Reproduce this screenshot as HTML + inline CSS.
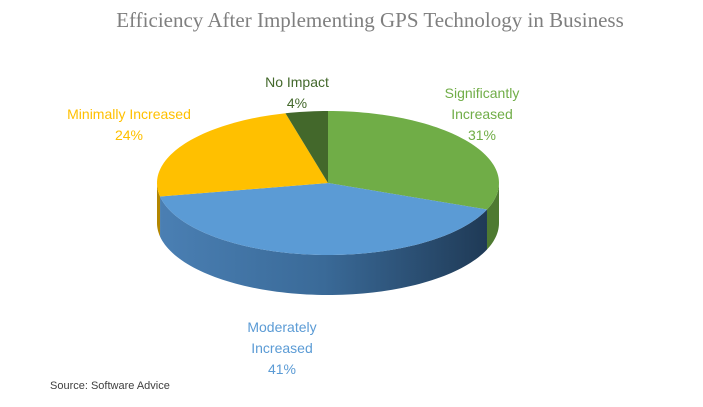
<!DOCTYPE html>
<html><head><meta charset="utf-8">
<style>
html,body{margin:0;padding:0;background:#fff;}
svg{display:block;font-family:"Liberation Sans",Arial,sans-serif;}
</style></head>
<body>
<svg id="chart" width="703" height="407" viewBox="0 0 703 407" xmlns="http://www.w3.org/2000/svg">
<defs>
<linearGradient id="gBlue" x1="0" x2="1" y1="0" y2="0">
<stop offset="0" stop-color="#4a7fb3"/><stop offset="0.5" stop-color="#3a6a98"/><stop offset="1" stop-color="#1f3a56"/>
</linearGradient>
</defs>
<text x="370" y="27" text-anchor="middle" font-family="'Liberation Serif',serif" font-size="21" fill="#7f7f7f">Efficiency After Implementing GPS Technology in Business</text>
<g id="slices"></g>
<g id="labels"></g>
<text x="50" y="389" font-size="11" fill="#404040">Source: Software Advice</text>
</svg>
<script>
const categories = ["Significantly Increased", "Moderately Increased", "Minimally Increased", "No Impact"];
const values = [31, 41, 24, 4];
const labelLines = [["Significantly","Increased","31%"],["Moderately","Increased","41%"],["Minimally Increased","24%"],["No Impact","4%"]];
const topColors = ["#70ad47","#5b9bd5","#ffc000","#43682b"];
const sideColors = ["#4e7a31","url(#gBlue)","#b38600","#2d4a1d"];
const labelColors = ["#70ad47","#5b9bd5","#ffc000","#43682b"];
const labelPos = [[482,98],[282,332],[129,119],[297,87]];

const cx=328, cy=183, rx=171, ry=72, depth=40;
const NS="http://www.w3.org/2000/svg";
const gS=document.getElementById('slices'), gL=document.getElementById('labels');
const total=values.reduce((a,b)=>a+b,0);
function pt(a,dy){return [cx+rx*Math.cos(a), cy+ry*Math.sin(a)+(dy||0)];}
function arcPath(a1,a2,dy){
  let d=""; const n=Math.max(2,Math.ceil(Math.abs(a2-a1)/0.03));
  for(let i=0;i<=n;i++){const p=pt(a1+(a2-a1)*i/n,dy); d+=(i?"L":"")+p[0].toFixed(2)+","+p[1].toFixed(2);}
  return d;
}
let angles=[]; let a=-Math.PI/2;
values.forEach(v=>{const b=a+v/total*2*Math.PI; angles.push([a,b]); a=b;});
angles.forEach((ab,i)=>{
  const s=Math.max(ab[0],0), e=Math.min(ab[1],Math.PI);
  if(e<=s) return;
  const p=document.createElementNS(NS,'path');
  p.setAttribute('d',"M"+arcPath(s,e,0)+"L"+arcPath(e,s,depth)+"Z");
  p.setAttribute('fill',sideColors[i]);
  
  
  gS.appendChild(p);
});
angles.forEach((ab,i)=>{
  const p=document.createElementNS(NS,'path');
  p.setAttribute('d',"M"+cx+","+cy+"L"+arcPath(ab[0],ab[1],0)+"Z");
  p.setAttribute('fill',topColors[i]);
  
  
  gS.appendChild(p);
});
labelLines.forEach((lines,i)=>{
  const t=document.createElementNS(NS,'text');
  t.setAttribute('text-anchor','middle');
  t.setAttribute('font-size','14');
  t.setAttribute('fill',labelColors[i]);
  
  
  lines.forEach((ln,j)=>{
    const ts=document.createElementNS(NS,'tspan');
    ts.setAttribute('x',labelPos[i][0]);
    ts.setAttribute('y',labelPos[i][1]+j*21);
    ts.textContent=ln; t.appendChild(ts);
  });
  gL.appendChild(t);
});
</script>
</body></html>
